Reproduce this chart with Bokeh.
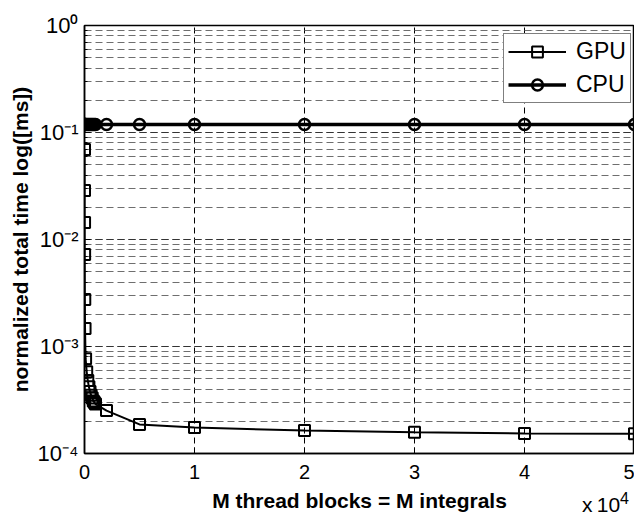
from bokeh.plotting import figure
from bokeh.models import Range1d, FixedTicker, Legend, LegendItem, Div
from bokeh.layouts import column
from bokeh.embed import file_html
from bokeh.resources import INLINE

# ---- data -------------------------------------------------------------
m_blocks = [1, 2, 5, 10, 25, 50, 100, 200, 300, 400, 500, 600, 700, 800,
            900, 1000, 2000, 5000, 10000, 20000, 30000, 40000, 50000]
gpu_time = [0.0694, 0.0287, 0.0144, 0.00724, 0.00275, 0.00147, 0.00077,
            0.00058, 0.00048, 0.00042, 0.00038, 0.00035, 0.00033, 0.00031,
            0.00030, 0.00029, 0.000252, 0.000187, 0.000175, 0.000164,
            0.000158, 0.000154, 0.000153]
cpu_time = [0.119, 0.119, 0.119, 0.119, 0.119, 0.119, 0.119, 0.119, 0.119,
            0.119, 0.119, 0.119, 0.119, 0.119, 0.119, 0.119, 0.119, 0.119,
            0.119, 0.119, 0.119, 0.119, 0.119]

x_ticks = [0, 10000, 20000, 30000, 40000, 50000]
x_tick_labels = ["0", "1", "2", "3", "4", "5"]
y_ticks = [1e-4, 1e-3, 1e-2, 1e-1, 1e0]
y_tick_labels = ["10\u207b\u2074", "10\u207b\u00b3", "10\u207b\u00b2",
                 "10\u207b\u00b9", "10\u2070"]
x_multiplier_html = "x&#8201;10<sup style='font-size:16px'>4</sup>"

FONT = "Liberation Sans"

p = figure(width=634, height=518, title=None, output_backend="svg",
           toolbar_location=None, y_axis_type="log",
           x_range=Range1d(0, 50000), y_range=Range1d(1e-4, 1),
           min_border_left=84, min_border_right=0, min_border_top=25,
           min_border_bottom=65)

p.background_fill_color = "white"
p.border_fill_color = "white"
p.outline_line_color = "black"
p.outline_line_width = 1.5

# axes
p.xaxis.ticker = FixedTicker(ticks=x_ticks)
p.xaxis.major_label_overrides = {t: l for t, l in zip(x_ticks, x_tick_labels)}
p.yaxis.ticker.num_minor_ticks = 10
p.yaxis.major_label_overrides = {t: l for t, l in zip(y_ticks, y_tick_labels)}

for ax in (p.xaxis[0], p.yaxis[0]):
    ax.axis_line_color = "black"
    ax.axis_line_width = 1.5
    ax.major_tick_line_color = "black"
    ax.major_tick_in = 6
    ax.major_tick_out = 0
    ax.major_label_text_font = FONT
    ax.major_label_text_color = "black"
    ax.axis_label_text_font = FONT
    ax.axis_label_text_font_size = "21px"
    ax.axis_label_text_font_style = "bold"
    ax.axis_label_text_color = "black"

p.xaxis.major_label_text_font_size = "20px"
p.yaxis.major_label_text_font_size = "22px"

p.xaxis.minor_tick_line_color = None
p.xaxis.major_label_standoff = 11
p.xaxis.axis_label = "M thread blocks = M integrals"
p.xaxis.axis_label_standoff = 7

p.yaxis.minor_tick_line_color = "black"
p.yaxis.minor_tick_in = 3
p.yaxis.minor_tick_out = 0
p.yaxis.major_label_standoff = 6
p.yaxis.axis_label = "normalized total time log([ms])"
p.yaxis.axis_label_standoff = 3

# grids
p.xgrid.grid_line_color = "black"
p.xgrid.grid_line_dash = "6 4"
p.xgrid.grid_line_width = 1
p.ygrid.grid_line_color = "#333333"
p.ygrid.grid_line_dash = "7 4"
p.ygrid.grid_line_width = 1
p.ygrid.minor_grid_line_color = "#6e6e6e"
p.ygrid.minor_grid_line_dash = "7 4"
p.ygrid.minor_grid_line_width = 1

# series
gl = p.line(m_blocks, gpu_time, line_color="black", line_width=2)
gs = p.scatter(m_blocks, gpu_time, marker="square", size=11,
               line_color="black", line_width=2, fill_alpha=0)
cl = p.line(m_blocks, cpu_time, line_color="black", line_width=3.5)
cs = p.scatter(m_blocks, cpu_time, marker="circle", size=11,
               line_color="black", line_width=2.5, fill_alpha=0)

legend = Legend(items=[LegendItem(label="GPU", renderers=[gl, gs]),
                       LegendItem(label="CPU", renderers=[cl, cs])],
                location=(419, 350))
legend.border_line_color = "black"
legend.border_line_width = 1
legend.background_fill_color = "white"
legend.background_fill_alpha = 1
legend.label_text_font = FONT
legend.label_text_font_size = "23px"
legend.label_text_color = "black"
legend.glyph_width = 58
legend.glyph_height = 27
legend.label_height = 27
legend.label_standoff = 10
legend.padding = 4
legend.spacing = 6
legend.margin = 0
p.add_layout(legend)

# "x 10^4" multiplier under the right end of the x axis
mult = Div(text=x_multiplier_html, width=52, height=24,
           margin=(-31, 0, 0, 582),
           styles={"font-family": FONT, "font-size": "21px",
                   "color": "black", "white-space": "nowrap",
                   "line-height": "24px"})

layout = column(p, mult, spacing=0)

open("out.html", "w").write(file_html(layout, INLINE))
